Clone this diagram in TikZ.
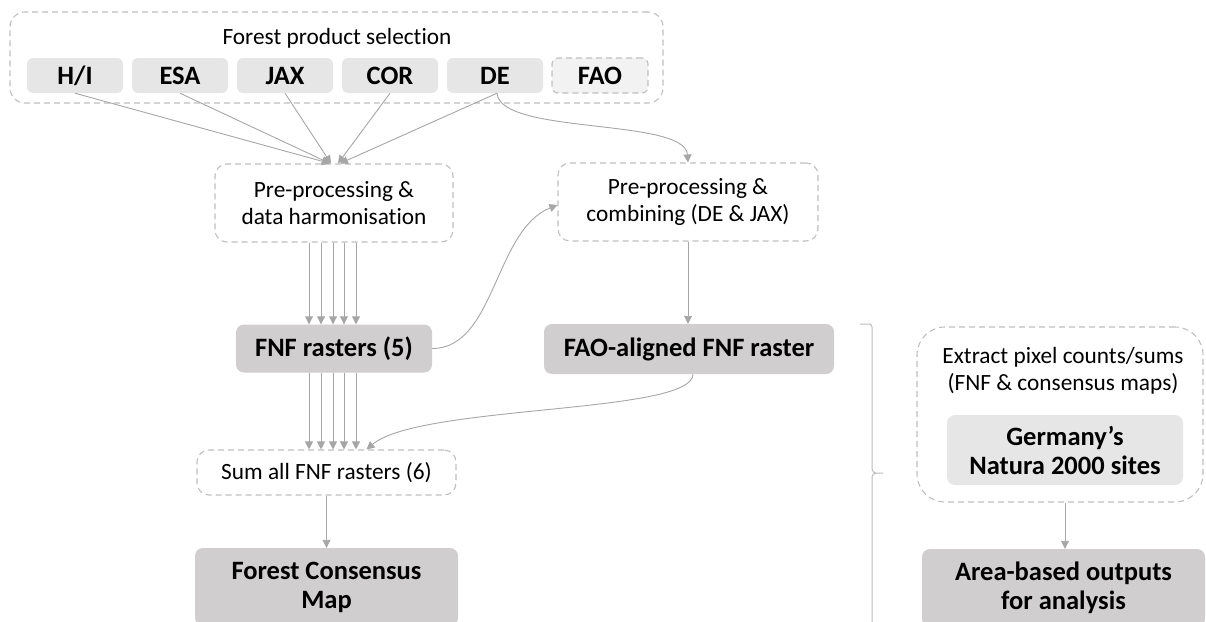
\documentclass[tikz,border=0pt]{standalone}
\usepackage{fontspec}
\setmainfont{Carlito}[Ligatures=NoCommon]
\usetikzlibrary{arrows.meta,calc}

\definecolor{linegrey}{HTML}{A6A6A6}
\definecolor{bracegrey}{HTML}{BCBCBC}
\definecolor{dashgrey}{HTML}{BFBFBF}
\definecolor{lightfill}{HTML}{E7E6E6}
\definecolor{palefill}{HTML}{F2F2F2}
\definecolor{darkfill}{HTML}{D0CECE}

\begin{document}
\begin{tikzpicture}[x=1pt,y=-1pt,
  box/.style={inner sep=0pt, align=center, text=black},
  regtext/.style={font=\fontsize{23.3}{27}\selectfont},
  boldtext/.style={font=\fontsize{26.5}{29}\selectfont\bfseries},
  dashbox/.style={box, regtext, draw=dashgrey, line width=1.1pt,
    dash pattern=on 6pt off 4pt, rounded corners=12pt},
  prodbox/.style={box, fill=lightfill, rounded corners=6pt,
    minimum width=96pt, minimum height=35pt, boldtext},
  darkbox/.style={box, fill=darkfill, rounded corners=8pt, boldtext},
  conn/.style={draw=linegrey, line width=0.9pt,
    -{Triangle[length=8pt,width=8pt]}, linegrey},
  plain/.style={draw=bracegrey, line width=1pt}
]
\useasboundingbox (0,0) rectangle (1206,621);
\clip (0,0) rectangle (1206,621);

% product selection group
\node[dashbox, rounded corners=15pt, minimum width=653pt, minimum height=91pt]
  (sel) at (336.5,57.5) {};
\node[box, regtext] (seltitle) at (337,38) {Forest product selection};
\node[prodbox] (hi)  at (75,75.5)  {H/I};
\node[prodbox] (esa) at (180,75.5) {ESA};
\node[prodbox] (jax) at (285,75.5) {JAX};
\node[prodbox] (cor) at (390,75.5) {COR};
\node[prodbox] (de)  at (495,75.5) {DE};
\node[prodbox, fill=palefill, draw=dashgrey, line width=1.1pt,
  dash pattern=on 6pt off 4pt] (fao0) at (600,75.5) {FAO};

% processing steps
\node[dashbox, minimum width=238pt, minimum height=78pt] (pre) at (334,203)
  {Pre-processing \&\\data harmonisation};
\node[dashbox, minimum width=260pt, minimum height=78pt] (comb) at (688,202)
  {Pre-processing \&\\combining (DE \& JAX)};
\node[darkbox, minimum width=196pt, minimum height=48pt] (fnf) at (334,348.5)
  {FNF rasters (5)};
\node[darkbox, minimum width=290pt, minimum height=50pt] (fao) at (689,349)
  {FAO-aligned FNF raster};
\node[dashbox, minimum width=259pt, minimum height=45pt] (sum) at (326.5,472.5)
  {Sum all FNF rasters (6)};
\node[darkbox, minimum width=263pt, minimum height=78pt] (fcm) at (326.5,587)
  {Forest Consensus\\Map};

% area-based extraction
\node[dashbox, rounded corners=28pt, minimum width=286pt, minimum height=175pt]
  (ext) at (1060,414.5) {};
\node[box, regtext] (exttitle) at (1063,371)
  {Extract pixel counts/sums\\(FNF \& consensus maps)};
\node[box, fill=lightfill, rounded corners=8pt, boldtext,
  minimum width=236pt, minimum height=70pt] (ger) at (1065,450)
  {Germany’s\\Natura 2000 sites};
\node[darkbox, minimum width=283pt, minimum height=78pt] (area) at (1063.5,588)
  {Area-based outputs\\for analysis};

% brace grouping the raster outputs (runs off the lower edge)
\draw[plain] (860,324) -- (869,324) to[out=0,in=90] (872,327) -- (872,469)
  to[out=-90,in=180] (876,473) -- (883,473);
\draw[plain] (876,473) to[out=180,in=90] (872,477) -- (872,625);

% connectors: products to harmonisation
\draw[conn] (hi.south)  -- ($(pre.north)+(-4,0)$);
\draw[conn] (esa.south) -- ($(pre.north)+(-4,0)$);
\draw[conn] (jax.south) -- ($(pre.north)+(-3,0)$);
\draw[conn] (cor.south) -- ($(pre.north)+(4,0)$);
\draw[conn] ($(de.south)+(2,0)$) -- ($(pre.north)+(6,0)$);
\draw[conn] ($(de.south)+(2,0)$) .. controls +(3,42) and +(-3,-45) .. (comb.north);

% harmonisation to rasters, rasters to sum
\foreach \dx in {-25,-13,-1,10,22} {
  \draw[conn] ([xshift=\dx pt]pre.south) -- ([xshift=\dx pt]pre.south |- fnf.north);
  \draw[conn] ([xshift=\dx pt]fnf.south) -- ([xshift=\dx pt]fnf.south |- sum.north);
}

% combined product path
\draw[conn] (fnf.east) .. controls +(63,0) and +(-63,25) .. ($(comb.west)+(0,3)$);
\draw[conn] (comb.south) -- (comb.south |- fao.north);
\draw[conn] ($(fao.south)+(4,0)$) .. controls +(0,40) and +(53,-45) .. ($(sum.north)+(40,0)$);
\draw[conn] (sum.south) -- (fcm.north);
\draw[conn] (ger.south |- ext.south) -- (ger.south |- area.north);
\end{tikzpicture}
\end{document}
